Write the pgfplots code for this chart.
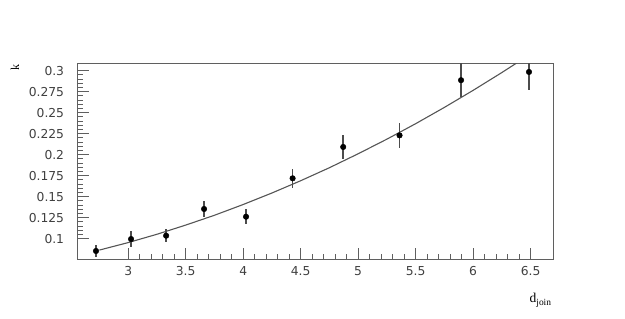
\documentclass[border=0pt]{standalone}
\usepackage{pgfplots}
\pgfplotsset{compat=1.18}
\usepackage{fontspec}
\setmainfont{Liberation Serif}
\newfontfamily\tickfont{DejaVu Sans}
\definecolor{framegray}{RGB}{95,95,95}
\definecolor{curvegray}{RGB}{85,85,85}
\begin{document}
\begin{tikzpicture}
\path[use as bounding box] (-77.6pt,-59.7pt) rectangle (547.4pt,259.3pt);
\begin{axis}[
  at={(0,0)}, anchor=south west,
  scale only axis, width=476pt, height=196pt,
  xmin=2.56, xmax=6.7, ymin=0.0755, ymax=0.3088,
  xtick={3,3.5,4,4.5,5,5.5,6,6.5},
  ytick={0.1,0.125,0.15,0.175,0.2,0.225,0.25,0.275,0.3},
  xticklabels={3,3.5,4,4.5,5,5.5,6,6.5},
  yticklabels={0.1,0.125,0.15,0.175,0.2,0.225,0.25,0.275,0.3},
  minor x tick num=4, minor y tick num=4,
  xtick pos=bottom, ytick pos=left, tick align=inside,
  major tick length=11pt, minor tick length=5.5pt,
  every tick/.style={framegray, line width=0.9pt},
  axis line style={framegray, line width=1.1pt},
  tick label style={font=\tickfont\fontsize{12.3}{14}\selectfont, text=black!75},
  xticklabel style={yshift=-4pt},
  yticklabel style={xshift=-10pt},
  clip=true,
]
\addplot[curvegray, line width=1.1pt] coordinates {
 (2.75,0.0865) (3.0,0.0954) (3.25,0.1053) (3.5,0.1162) (3.75,0.1279)
 (4.0,0.1407) (4.25,0.1544) (4.5,0.1690) (4.75,0.1845) (5.0,0.2011)
 (5.25,0.2185) (5.5,0.2369) (5.75,0.2563) (6.0,0.2766) (6.25,0.2978)
 (6.384,0.3096)
};
\addplot[only marks, mark=*, mark size=2.8pt, black,
  error bars/.cd, y dir=both, y explicit,
  error bar style={framegray!80!black, line width=1.4pt},
  error mark=none]
 coordinates {
 (2.72,0.0854) +- (0,0.007)
 (3.025,0.0996) +- (0,0.009)
 (3.33,0.1036) +- (0,0.008)
 (3.66,0.1354) +- (0,0.009)
 (4.025,0.1262) +- (0,0.0087)
 (4.43,0.1719) +- (0,0.0115)
 (4.87,0.2092) +- (0,0.0145)
 (5.36,0.2230) +- (0,0.015)
 (5.895,0.2887) +- (0,0.0206)
 (6.486,0.2985) +- (0,0.022)
};
\end{axis}
\node[rotate=90, font=\fontsize{12}{14}\selectfont] at (-62.6pt,191.3pt) {k};
\node[font=\fontsize{13.5}{15}\selectfont, anchor=center] at (463pt,-41pt) {d\textsubscript{join}};
\end{tikzpicture}
\end{document}
